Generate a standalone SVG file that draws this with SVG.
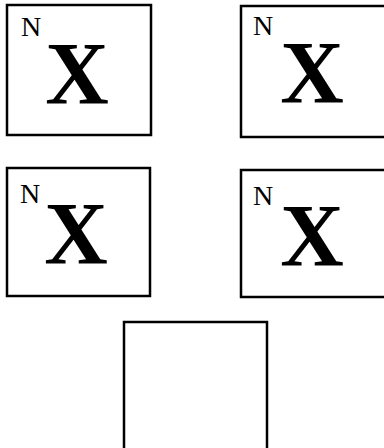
<svg xmlns="http://www.w3.org/2000/svg" width="384" height="448" viewBox="0 0 384 448">
<style>
.box{fill:#fff;stroke:#000;stroke-width:2.5}
.n{font-family:"Liberation Serif",serif;font-size:28px;fill:#000}
.x{font-family:"Liberation Serif",serif;font-size:88px;font-weight:bold;fill:#000}
</style>
<rect width="384" height="448" fill="#fff"/>
<g id="node1">
<rect class="box" x="7" y="5" width="144" height="130"/>
<text class="n" x="21" y="36">N</text>
<text class="x" x="77" y="103" text-anchor="middle">X</text>
</g>
<g id="node2">
<rect class="box" x="241" y="6" width="150" height="131"/>
<text class="n" x="253" y="35">N</text>
<text class="x" x="312" y="102" text-anchor="middle">X</text>
</g>
<g id="node3">
<rect class="box" x="7" y="168" width="143" height="128"/>
<text class="n" x="20" y="203">N</text>
<text class="x" x="76" y="263" text-anchor="middle">X</text>
</g>
<g id="node4">
<rect class="box" x="241" y="170" width="150" height="127"/>
<text class="n" x="253" y="205">N</text>
<text class="x" x="312" y="265" text-anchor="middle">X</text>
</g>
<g id="node5">
<rect class="box" x="124" y="322" width="143" height="140"/>
</g>
<g id="connectors"></g>
</svg>
